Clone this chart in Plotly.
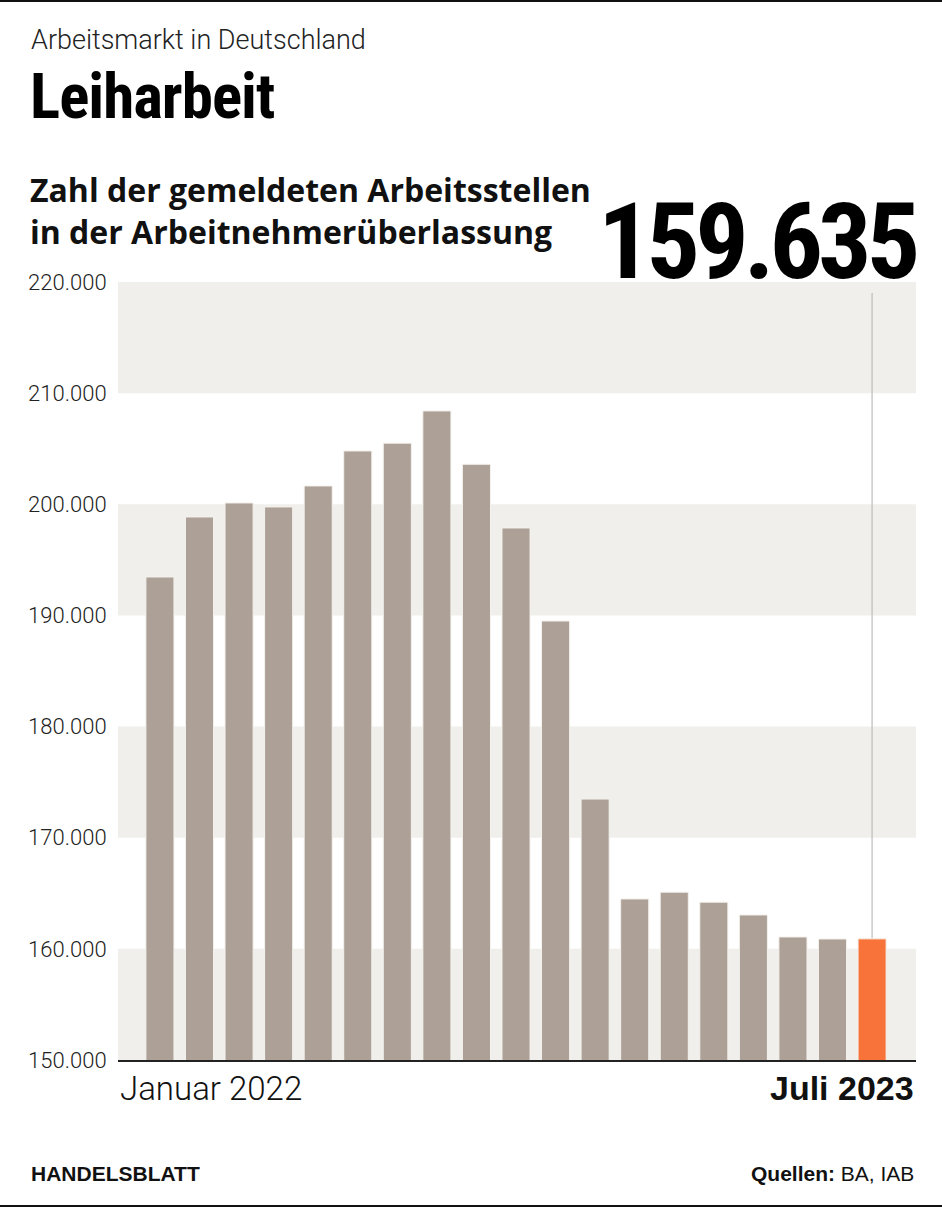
import plotly.graph_objects as go

months = ["Jan 2022", "Feb 2022", "Mär 2022", "Apr 2022", "Mai 2022", "Jun 2022",
          "Jul 2022", "Aug 2022", "Sep 2022", "Okt 2022", "Nov 2022", "Dez 2022",
          "Jan 2023", "Feb 2023", "Mär 2023", "Apr 2023", "Mai 2023", "Jun 2023", "Jul 2023"]
values = [193460, 198860, 200120, 199760, 201650, 204800, 205500, 208400, 203600,
          197870, 189500, 173480, 164490, 165100, 164200, 163050, 161070, 160890, 160900]
latest_label = "159.635"
first_label = "Januar 2022"
last_label = "Juli 2023"
ytick_vals = [150000, 160000, 170000, 180000, 190000, 200000, 210000, 220000]
bands = [(150000, 160000), (170000, 180000), (190000, 200000), (210000, 220000)]

GREY = "#ada197"
ORANGE = "#f7733a"
BAND = "#f0efeb"
xs = list(range(len(months)))
colors = [GREY] * (len(months) - 1) + [ORANGE]

fig = go.Figure()
fig.add_trace(go.Bar(
    x=xs, y=values, marker=dict(color=colors, line=dict(color="#f4f2ee", width=1)),
    hovertext=months, hoverinfo="text+y", showlegend=False,
))

def py(pix):
    return (1060 - pix) / 778

def px(pix):
    return (pix - 118) / 798

shapes = []
for y0, y1 in bands:
    shapes.append(dict(type="rect", xref="paper", yref="y", x0=0, x1=1, y0=y0, y1=y1,
                       fillcolor=BAND, line=dict(width=0), layer="below"))
shapes.append(dict(type="line", xref="x", yref="paper", x0=xs[-1], x1=xs[-1],
                   y0=(values[-1] - 150000) / 70000, y1=py(293),
                   line=dict(color="#bdbdbd", width=1.2), layer="below"))
shapes.append(dict(type="line", xref="paper", yref="paper", x0=px(0), x1=px(942),
                   y0=py(1), y1=py(1), line=dict(color="#111", width=2)))
shapes.append(dict(type="line", xref="paper", yref="paper", x0=px(0), x1=px(942),
                   y0=py(1206), y1=py(1206), line=dict(color="#111", width=2)))

LIGHT = "Roboto"
BOLD = "Open Sans, Liberation Sans, sans-serif"
BOLD2 = "Liberation Sans, Arial, sans-serif"
COND = "Roboto Condensed, Roboto, sans-serif"

annotations = [
    dict(text="Arbeitsmarkt in Deutschland", x=px(29), y=py(40), xanchor="left", yanchor="middle",
         font=dict(family=LIGHT, size=27, color="#222", weight=300)),
    dict(text="<span style=\"font-stretch:75%;letter-spacing:-1px\"><b>Leiharbeit</b></span>",
         x=px(28), y=py(97), xanchor="left", yanchor="middle",
         font=dict(family=COND, size=63, color="#000", weight=900)),
    dict(text="<b>Zahl der gemeldeten Arbeitsstellen<br>in der Arbeitnehmerüberlassung</b>",
         x=px(28), y=py(210), xanchor="left", yanchor="middle", align="left",
         font=dict(family=BOLD, size=32, color="#111")),
    dict(text="<span style=\"font-stretch:75%;letter-spacing:-5px\"><b>" + latest_label + "</b></span>",
         x=px(919), y=py(242), xanchor="right", yanchor="middle",
         font=dict(family=COND, size=106, color="#000", weight=900)),
    dict(text=first_label, x=0, y=py(1088), xanchor="left", yanchor="middle",
         font=dict(family=LIGHT, size=33, color="#111", weight=300)),
    dict(text="<b>" + last_label + "</b>", x=px(916), y=py(1088), xanchor="right", yanchor="middle",
         font=dict(family=BOLD2, size=34, color="#111")),
    dict(text="<b>HANDELSBLATT</b>", x=px(29), y=py(1173), xanchor="left", yanchor="middle",
         font=dict(family=BOLD2, size=21, color="#111")),
    dict(text="<b>Quellen:</b> BA, IAB", x=px(916), y=py(1173), xanchor="right", yanchor="middle",
         font=dict(family=BOLD2, size=21, color="#111")),
]
for a in annotations:
    a.update(xref="paper", yref="paper", showarrow=False)

fig.update_layout(
    width=942, height=1208,
    margin=dict(l=118, r=26, t=282, b=148),
    paper_bgcolor="white", plot_bgcolor="white",
    separators=",.",
    bargap=0.29,
    shapes=shapes, annotations=annotations,
    xaxis=dict(range=[-1.06, 19.11], showgrid=False, zeroline=False, showticklabels=False,
               showline=True, linecolor="#222", linewidth=1.5, fixedrange=True),
    yaxis=dict(range=[150000, 220000], tickvals=ytick_vals, tickformat=",d",
               showgrid=False, zeroline=False, ticks="outside", ticklen=6, tickcolor="rgba(0,0,0,0)",
               tickfont=dict(family=LIGHT, size=22, color="#222", weight=300), fixedrange=True),
    showlegend=False,
)

fig.write_html("out.html", config={"displayModeBar": False},
               post_script="document.body.style.margin='0';")
